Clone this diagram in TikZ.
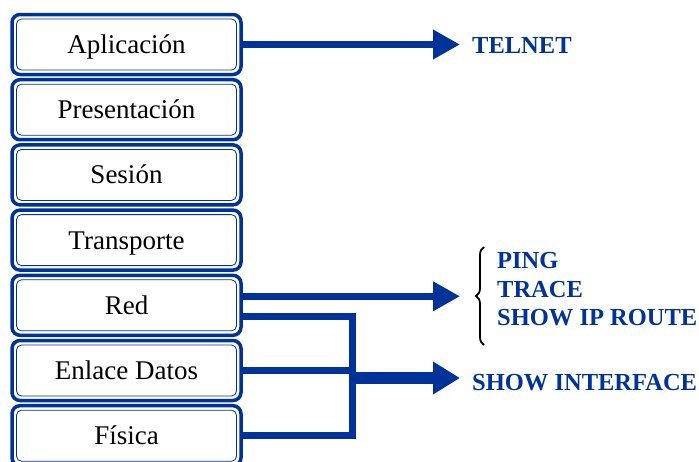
\documentclass[tikz,border=0pt]{standalone}
\usepackage{fontspec}
\setmainfont{Liberation Serif}
\usetikzlibrary{arrows.meta,decorations.pathreplacing}
\definecolor{azulCapa}{HTML}{003399}

\begin{document}
\begin{tikzpicture}[x=1pt,y=-1pt,
  capa/.style={draw=azulCapa,line width=3.5pt,rounded corners=8pt,outer sep=0pt,
    minimum width=229pt,minimum height=60pt,text height=17.8pt,text depth=0pt,
    font=\fontsize{27}{30}\selectfont},
  comando/.style={text=azulCapa,font=\fontsize{24.5}{28}\selectfont\bfseries,anchor=west,
    inner sep=0pt,text height=16.2pt,text depth=0pt},
  enlace/.style={draw=azulCapa,line width=7pt},
  flecha/.style={enlace,-{Triangle[length=27pt,width=28pt]}}]
\useasboundingbox (0,0) rectangle (699,461);
% pila de capas
\foreach \nombre/\texto [count=\i from 0] in {apl/Aplicación,pre/Presentación,ses/Sesión,tra/Transporte,red/Red,enl/Enlace Datos,fis/Física}{
  \node[capa] (\nombre) at (126.5,{44.5+65.2*\i}) {\texto};
  \draw[azulCapa,line width=0.8pt,rounded corners=5pt]
    ([shift={(4.5pt,-4.5pt)}]\nombre.north west) rectangle ([shift={(-4.5pt,4.5pt)}]\nombre.south east);
}
% comandos
\node[comando] (telnet) at (472,45) {TELNET};
\node[comando] (ping) at (497,260) {PING};
\node[comando] (trace) at (497,289) {TRACE};
\node[comando] (route) at (497,317) {SHOW IP ROUTE};
\node[comando] (iface) at (472,382) {SHOW INTERFACE};
\draw[line width=1.8pt,decorate,decoration={brace,amplitude=8pt}] (484,345) -- (484,247);
% flechas
\coordinate (bus) at (352,378);
\draw[flecha] (apl.east) -- ([xshift=-12pt]apl.east -| telnet.west);
\draw[flecha] ([yshift=9pt]red.east) -- ([xshift=-12pt,yshift=9pt]red.east -| telnet.west);
\draw[enlace] ([yshift=-11pt]red.east) -| (bus |- fis.east) -- (fis.east);
\draw[enlace] (enl.east) -- (bus |- enl.east);
\draw[enlace,line width=12pt,-{Triangle[length=27pt,width=31pt]}] (bus) -- ([xshift=-12pt]bus -| iface.west);
\end{tikzpicture}
\end{document}
